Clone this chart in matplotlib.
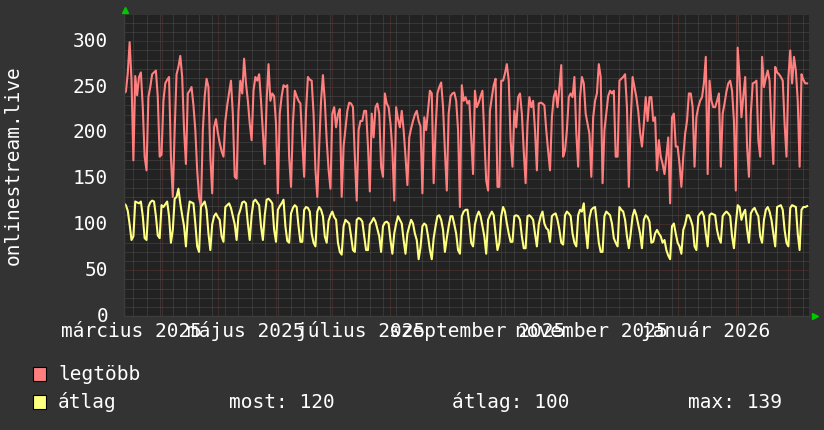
import matplotlib
matplotlib.use("Agg")
import matplotlib.pyplot as plt
import matplotlib.dates as mdates
import matplotlib.transforms as mtransforms
from matplotlib.patches import Rectangle
import pandas as pd

# daily values, first day 2025-03-12
legtobb = [
    243, 245, 265, 299, 258, 170, 262, 241, 261, 266,
    228, 174, 159, 239, 250, 264, 266, 268, 239, 174,
    176, 235, 254, 258, 261, 174, 130, 203, 264, 272,
    284, 261, 203, 166, 243, 246, 250, 230, 203, 159,
    130, 119, 203, 240, 259, 250, 174, 134, 206, 215,
    200, 189, 180, 174, 213, 230, 244, 257, 220, 152,
    150, 224, 257, 243, 281, 254, 235, 210, 192, 246,
    261, 257, 264, 235, 200, 166, 235, 275, 235, 243,
    240, 210, 134, 221, 240, 252, 250, 252, 174, 141,
    210, 246, 240, 235, 232, 190, 152, 224, 261, 258,
    257, 221, 160, 130, 185, 235, 263, 235, 192, 160,
    139, 221, 228, 206, 220, 226, 130, 185, 205, 224,
    233, 232, 228, 174, 126, 203, 213, 213, 224, 224,
    185, 136, 221, 195, 228, 232, 221, 163, 152, 243,
    232, 228, 210, 181, 126, 228, 215, 206, 224, 203,
    174, 143, 195, 205, 213, 220, 224, 213, 207, 134,
    217, 203, 225, 246, 243, 145, 203, 243, 250, 255,
    228, 180, 137, 221, 240, 243, 244, 235, 203, 119,
    252, 235, 239, 232, 235, 195, 155, 246, 228, 233,
    240, 246, 195, 148, 137, 224, 239, 252, 259, 141,
    141, 257, 257, 265, 275, 257, 192, 163, 224, 206,
    239, 243, 221, 180, 145, 210, 239, 228, 235, 203,
    159, 232, 233, 232, 230, 203, 180, 159, 217, 239,
    246, 228, 250, 274, 174, 181, 203, 239, 243, 239,
    261, 200, 163, 239, 261, 254, 221, 210, 199, 152,
    217, 235, 243, 275, 261, 145, 203, 221, 240, 246,
    243, 246, 174, 174, 257, 259, 261, 264, 228, 141,
    213, 261, 250, 239, 224, 200, 185, 210, 239, 213,
    239, 239, 213, 217, 159, 192, 174, 166, 155, 174,
    195, 123, 217, 221, 185, 185, 166, 141, 174, 199,
    213, 243, 243, 228, 163, 217, 228, 235, 239, 254,
    283, 155, 257, 235, 228, 228, 235, 243, 163, 221,
    232, 245, 254, 257, 246, 213, 137, 293, 261, 217,
    240, 261, 185, 152, 221, 254, 255, 257, 192, 174,
    283, 250, 260, 268, 257, 206, 166, 272, 266, 264,
    261, 257, 210, 174, 260, 290, 254, 283, 268, 235,
    163, 264, 258, 254, 254,
]

atlag = [
    123, 121, 115, 100, 83, 87, 125, 124, 123, 125,
    109, 85, 83, 119, 124, 126, 125, 109, 88, 85,
    121, 119, 122, 125, 109, 80, 94, 128, 130, 139,
    123, 110, 98, 76, 109, 125, 124, 123, 101, 76,
    70, 119, 122, 125, 116, 90, 72, 100, 109, 112,
    108, 105, 87, 81, 119, 121, 123, 118, 109, 100,
    83, 110, 116, 124, 125, 123, 101, 83, 110, 125,
    127, 124, 121, 98, 83, 110, 127, 128, 126, 123,
    94, 81, 116, 120, 123, 127, 98, 82, 80, 112,
    118, 121, 119, 98, 81, 81, 116, 119, 118, 114,
    90, 80, 76, 114, 119, 116, 109, 87, 80, 104,
    110, 114, 108, 105, 80, 70, 67, 98, 105, 103,
    101, 87, 72, 70, 105, 107, 106, 103, 87, 72,
    72, 100, 103, 107, 103, 95, 87, 70, 98, 102,
    103, 101, 83, 68, 90, 101, 109, 105, 101, 83,
    68, 90, 98, 105, 101, 90, 83, 62, 75, 98,
    101, 99, 87, 72, 62, 85, 98, 109, 110, 105,
    94, 70, 85, 98, 109, 109, 100, 90, 72, 68,
    109, 114, 116, 116, 101, 80, 76, 100, 109, 114,
    109, 98, 87, 68, 105, 110, 114, 110, 90, 72,
    80, 109, 119, 114, 101, 90, 81, 81, 109, 110,
    109, 105, 87, 74, 74, 109, 110, 108, 105, 90,
    76, 100, 109, 114, 101, 96, 94, 81, 109, 111,
    112, 105, 94, 80, 78, 110, 114, 112, 109, 90,
    80, 76, 110, 116, 114, 123, 94, 74, 107, 116,
    118, 119, 101, 80, 70, 70, 109, 114, 112, 110,
    101, 85, 80, 76, 119, 116, 114, 105, 87, 74,
    90, 109, 116, 110, 100, 90, 74, 105, 110, 108,
    103, 80, 81, 90, 94, 90, 87, 80, 83, 72,
    66, 62, 98, 101, 90, 80, 76, 68, 94, 100,
    110, 110, 105, 98, 76, 72, 109, 112, 114, 109,
    90, 76, 110, 112, 111, 110, 94, 85, 80, 109,
    112, 114, 112, 109, 87, 74, 100, 121, 119, 105,
    112, 116, 94, 80, 112, 116, 118, 113, 109, 87,
    80, 105, 116, 119, 114, 105, 90, 76, 119, 120,
    121, 116, 94, 80, 76, 118, 121, 120, 119, 90,
    72, 116, 119, 119, 120,
]

x_labels = ["március 2025", "május 2025", "július 2025",
            "szeptember 2025", "november 2025", "január 2026"]
label_months = ["2025-03-01", "2025-05-01", "2025-07-01",
                "2025-09-01", "2025-11-01", "2026-01-01"]
y_ticks = [0, 50, 100, 150, 200, 250, 300]
stats = ["most: 120", "átlag: 100", "max: 139"]

start = pd.Timestamp("2025-03-12")
end = start + pd.Timedelta(days=365)
days_max = pd.date_range(start, periods=len(legtobb), freq="D")
days_avg = pd.date_range(start, periods=len(atlag), freq="D")

W, H = 824, 430
BG = "#333333"
PLOT_BG = "#222222"
RED = "#FF7F7F"
YELLOW = "#FFFF80"
MINOR = "#4d4d4d"
MAJOR = "#633434"
FONT = "DejaVu Sans Mono"
FS = 14

def fx(px):
    return px / W

def fy(py):
    return 1 - py / H

fig = plt.figure(figsize=(W / 100, H / 100), dpi=100, facecolor=BG)
ax = fig.add_axes([fx(124), fy(316), fx(809) - fx(124), fy(14.7) - fy(316)])
ax.set_facecolor(PLOT_BG)

ax.set_xlim(start, end)
ax.set_ylim(0, 329)

# grid
ax.set_yticks(range(0, 330, 10), minor=True)
ax.set_yticks(y_ticks)
ax.yaxis.set_major_formatter(plt.NullFormatter())
ax.xaxis.set_major_locator(mdates.MonthLocator())
ax.xaxis.set_minor_locator(mdates.WeekdayLocator(byweekday=mdates.MO))
ax.xaxis.set_major_formatter(plt.NullFormatter())
ax.grid(which="minor", color=MINOR, linestyle=(0, (1, 1)), linewidth=0.72)
ax.grid(which="major", color=MAJOR, linestyle=(0, (1, 1)), linewidth=0.72)
ax.set_axisbelow(True)
ax.tick_params(which="both", length=0)

for side in ["top", "right"]:
    ax.spines[side].set_visible(False)
for side in ["left", "bottom"]:
    ax.spines[side].set_color("#3c3c3c")
    ax.spines[side].set_linewidth(1)

ax.plot(days_max, legtobb, color=RED, lw=1.5)
ax.plot(days_avg, atlag, color=YELLOW, lw=1.5)

# axis arrows
ax.plot([0.0015], [1.017], marker="^", color="#00C800", markersize=4.5,
        transform=ax.transAxes, clip_on=False)
ax.plot([1.009], [0.0], marker=">", color="#00C800", markersize=4.5,
        transform=ax.transAxes, clip_on=False)

# y labels, right aligned left of the plot
ytrans = mtransforms.blended_transform_factory(fig.transFigure, ax.transData)
for v in y_ticks:
    ax.text(fx(108), v, str(v), transform=ytrans, ha="right", va="center",
            color="white", fontsize=FS, family=FONT, clip_on=False)

# x labels, centred half a month after the month start
xtrans = mtransforms.blended_transform_factory(ax.transData, fig.transFigure)
for lab, m in zip(x_labels, label_months):
    xpos = pd.Timestamp(m) + pd.Timedelta(days=15)
    ax.text(xpos, fy(337), lab, transform=xtrans, ha="center", va="baseline",
            color="white", fontsize=FS, family=FONT, clip_on=False)

fig.text(fx(13), fy(165), "onlinestream.live", rotation=90, ha="center",
         va="center", color="white", fontsize=FS, family=FONT)

# legend
for row_y, col, name in [(374, RED, "legtöbb"), (402, YELLOW, "átlag")]:
    fig.patches.append(Rectangle((fx(33), fy(row_y + 7)), fx(13), fy(row_y - 7) - fy(row_y + 7),
                                 transform=fig.transFigure, facecolor=col,
                                 edgecolor="black", linewidth=0.8))
    fig.text(fx(58), fy(row_y), name, ha="left", va="center",
             color="white", fontsize=FS, family=FONT)

for s, px in zip(stats, [229, 452, 688]):
    fig.text(fx(px), fy(402), s, ha="left", va="center",
             color="white", fontsize=FS, family=FONT)

fig.savefig("out.png", dpi=100, facecolor=BG)
